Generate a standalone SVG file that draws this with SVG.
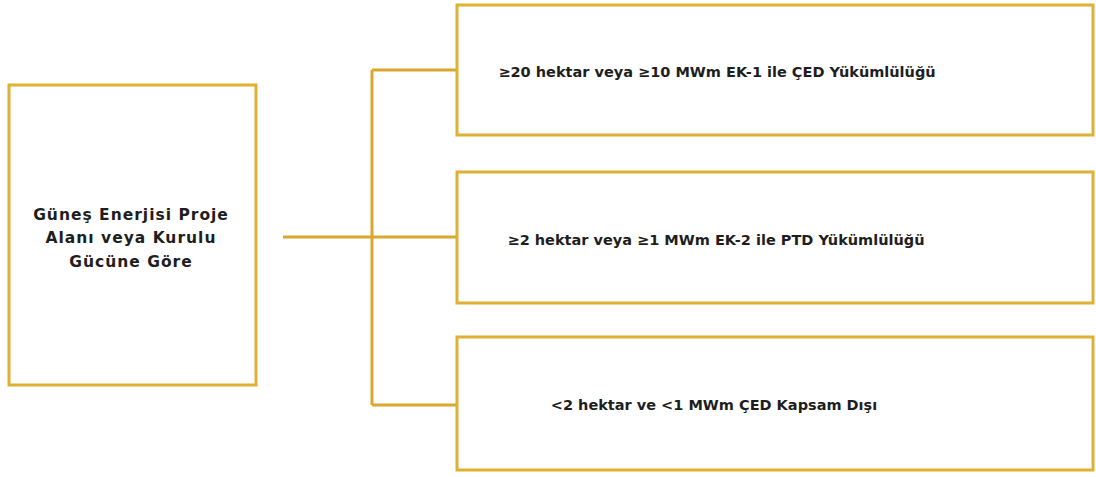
<svg xmlns="http://www.w3.org/2000/svg" width="1096" height="477" viewBox="0 0 1096 477">
<style>
.box{fill:#fff;stroke:#E0B033;stroke-width:3}
.conn{fill:none;stroke:#D9A62E;stroke-width:3}
.t{font-family:"DejaVu Sans","Liberation Sans",sans-serif;font-weight:bold;font-size:14.5px;fill:#1e1e1e;text-anchor:middle;dominant-baseline:central}
.l{font-size:15.5px;letter-spacing:1px}
</style>
<rect width="1096" height="477" fill="#fff"/>
<g id="connectors">
<path class="conn" d="M283 237H372M372 70V405M372 70H457M372 237H457M372 405H457"/>
</g>
<g id="root">
<rect class="box" x="9" y="85" width="247" height="300"/>
<text class="t l" x="131" y="215">Güneş Enerjisi Proje</text>
<text class="t l" x="131" y="238">Alanı veya Kurulu</text>
<text class="t l" x="131" y="262">Gücüne Göre</text>
</g>
<g id="n1">
<rect class="box" x="457" y="5" width="636" height="130"/>
<text class="t" x="717" y="72">≥20 hektar veya ≥10 MWm EK-1 ile ÇED Yükümlülüğü</text>
</g>
<g id="n2">
<rect class="box" x="457" y="172" width="636" height="131"/>
<text class="t" x="716" y="240">≥2 hektar veya ≥1 MWm EK-2 ile PTD Yükümlülüğü</text>
</g>
<g id="n3">
<rect class="box" x="457" y="337" width="636" height="133"/>
<text class="t" x="714" y="405">&lt;2 hektar ve &lt;1 MWm ÇED Kapsam Dışı</text>
</g>
</svg>
